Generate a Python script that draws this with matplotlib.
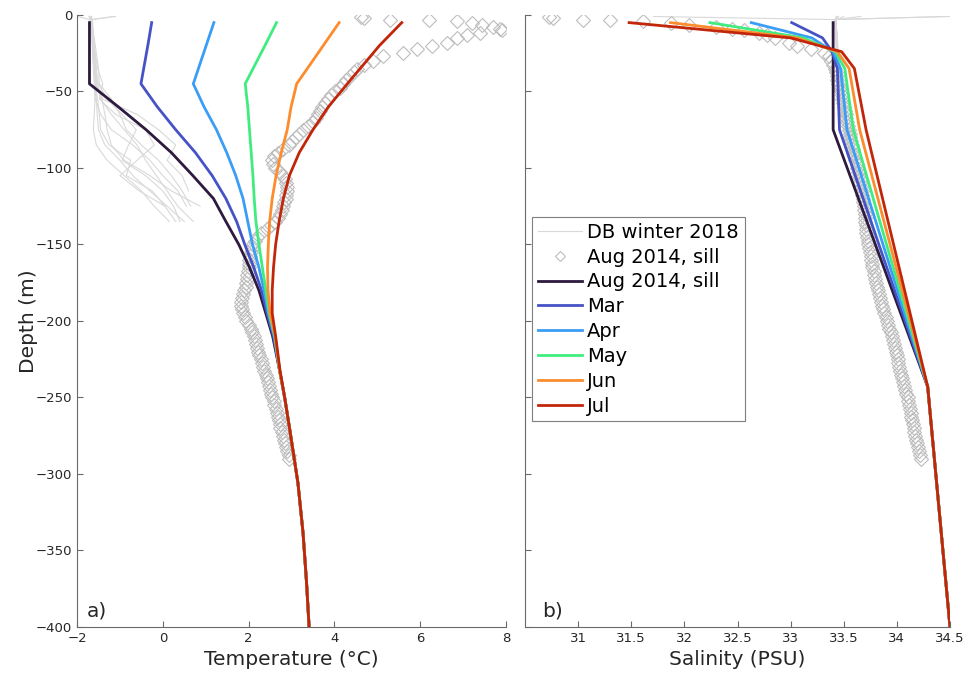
#!/usr/bin/env python3
"""
Temperature and salinity profiles: winter CTD casts, the Aug 2014 sill cast
and the monthly model profiles (Mar-Jul).
"""

import matplotlib

matplotlib.use("Agg")
import matplotlib.pyplot as plt

nan = float("nan")

# ---------------------------------------------------------------- data
# Monthly model profiles (temperature)
temp_depth = [-5, -20, -45, -60, -75, -90, -105, -120, -135, -150, -165, -180, -195, -210, -232]
temp_profiles = {
    "Aug 2014, sill": [-1.71, -1.71, -1.71, -1.04, -0.39, 0.20, 0.70, 1.18, 1.47, 1.77, 2.02, 2.24, 2.40, 2.56, 2.72],
    "Mar": [-0.26, -0.35, -0.51, -0.13, 0.30, 0.76, 1.15, 1.47, 1.72, 1.91, 2.12, 2.30, 2.43, 2.58, 2.72],
    "Apr": [1.19, 1.01, 0.71, 0.96, 1.25, 1.49, 1.70, 1.87, 1.98, 2.09, 2.24, 2.36, 2.46, 2.60, 2.72],
    "May": [2.65, 2.38, 1.92, 1.98, 2.02, 2.06, 2.10, 2.13, 2.17, 2.24, 2.32, 2.40, 2.48, 2.61, 2.72],
    "Jun": [4.11, 3.74, 3.12, 2.99, 2.90, 2.76, 2.64, 2.55, 2.49, 2.46, 2.44, 2.45, 2.50, 2.62, 2.72],
    "Jul": [5.57, 5.05, 4.30, 3.86, 3.50, 3.18, 2.95, 2.81, 2.71, 2.63, 2.58, 2.55, 2.55, 2.63, 2.73],
}
# shared deep part (all months coincide below ~230 m)
deep_depth = [-250, -273, -306, -339, -371, -400]
deep_temp = [2.84, 2.97, 3.15, 3.27, 3.35, 3.41]

# Monthly model profiles (salinity)
sal_depth = [-5, -15, -24, -35, -75, -243, -400]
sal_profiles = {
    "Aug 2014, sill": [33.40, 33.40, 33.40, 33.40, 33.40, 34.29, 34.50],
    "Mar": [33.01, 33.30, 33.39, 33.44, 33.46, 34.29, 34.50],
    "Apr": [32.63, 33.20, 33.40, 33.47, 33.53, 34.29, 34.50],
    "May": [32.24, 33.12, 33.42, 33.51, 33.59, 34.29, 34.50],
    "Jun": [31.87, 33.06, 33.44, 33.55, 33.65, 34.29, 34.50],
    "Jul": [31.48, 33.00, 33.48, 33.60, 33.71, 34.29, 34.50],
}
line_colors = ["#2e1a3e", "#4653c6", "#3a9df6", "#40ec80", "#fd8c2e", "#c2260a"]

# Aug 2014 sill CTD cast (diamonds)
sill_depth = [
    -1.5, -2, -3, -3.5, -4, -5.5, -6.5, -8, -9, -10, -12, -13, -15, -18, -20, -22, -25, -27,
    -30, -32.5, -35, -37.5, -40, -42.5, -45, -47.5, -50, -52.5, -55, -57.5, -60, -62.5,
    -65, -67.5, -70, -72.5, -75, -77.5, -80, -82.5, -85, -87.5, -90, -92.5, -95, -97.5,
    -100, -102.5, -105, -107.5, -110, -112.5, -115, -117.5, -120, -122.5, -125, -127.5,
    -130, -132.5, -135, -137.5, -140, -142.5, -145, -147.5, -150, -152.5, -155, -157.5,
    -160, -162.5, -165, -167.5, -170, -172.5, -175, -177.5, -180, -182.5, -185, -187.5,
    -190, -192.5, -195, -197.5, -200, -202.5, -205, -207.5, -210, -212.5, -215, -217.5,
    -220, -222.5, -225, -227.5, -230, -232.5, -235, -237.5, -240, -242.5, -245, -247.5,
    -250, -252.5, -255, -257.5, -260, -262.5, -265, -267.5, -270, -272.5, -275, -277.5,
    -280, -282.5, -285, -287.5, -290,
]
sill_temp = [
    4.62, 4.68, 5.30, 6.20, 6.85, 7.20, 7.45, 7.70, 7.85, 7.90, 7.40, 7.08, 6.85, 6.62, 6.27,
    5.92, 5.61, 5.14, 4.90, 4.70, 4.52, 4.45, 4.36, 4.28, 4.20, 4.12, 4.02, 3.93, 3.85, 3.78,
    3.72, 3.66, 3.62, 3.58, 3.50, 3.38, 3.26, 3.18, 3.10, 3.02, 2.94, 2.80, 2.68, 2.60, 2.55,
    2.56, 2.62, 2.72, 2.79, 2.84, 2.88, 2.90, 2.90, 2.88, 2.86, 2.83, 2.80, 2.77, 2.74, 2.69,
    2.62, 2.52, 2.42, 2.30, 2.20, 2.14, 2.10, 2.07, 2.05, 2.04, 2.02, 2.01, 2.00, 1.98, 1.97,
    1.96, 1.95, 1.93, 1.90, 1.87, 1.85, 1.83, 1.82, 1.84, 1.87, 1.91, 1.95, 2.00, 2.05, 2.09,
    2.12, 2.15, 2.18, 2.20, 2.22, 2.25, 2.28, 2.31, 2.34, 2.37, 2.40, 2.43, 2.45, 2.48, 2.50,
    2.53, 2.55, 2.58, 2.60, 2.63, 2.65, 2.68, 2.70, 2.72, 2.74, 2.77, 2.80, 2.83, 2.85, 2.88,
    2.90, 2.93, 2.95,
]
sill_sal = [
    30.73, 30.76, 31.05, 31.30, 31.61, 31.87, 32.04, 32.30, 32.45, 32.56, 32.70, 32.78, 32.85,
    32.98, 33.06, 33.19, 33.31, 33.36, 33.38, 33.40, 33.42, 33.43, 33.44, 33.44, 33.45, 33.46,
    33.47, 33.48, 33.48, 33.49, 33.50, 33.51, 33.52, 33.52, 33.53, 33.54, 33.55, 33.56, 33.56,
    33.57, 33.58, 33.59, 33.59, 33.60, 33.61, 33.62, 33.62, 33.63, 33.64, 33.65, 33.65, 33.66,
    33.67, 33.67, 33.68, 33.68, 33.69, 33.69, 33.70, 33.70, 33.70, 33.71, 33.71, 33.71, 33.72,
    33.73, 33.73, 33.74, 33.75, 33.76, 33.76, 33.77, 33.77, 33.78, 33.78, 33.79, 33.80, 33.81,
    33.82, 33.83, 33.84, 33.85, 33.86, 33.87, 33.88, 33.90, 33.91, 33.92, 33.93, 33.94, 33.95,
    33.96, 33.97, 33.98, 33.99, 34.00, 34.01, 34.01, 34.02, 34.03, 34.04, 34.05, 34.06, 34.07,
    34.08, 34.09, 34.10, 34.10, 34.11, 34.12, 34.13, 34.13, 34.14, 34.15, 34.16, 34.16, 34.17,
    34.18, 34.19, 34.20, 34.21, 34.22, 34.23,
]

# DB winter 2018 casts (thin grey lines); nan = below end of cast
db_depth = [-1, -3, -8, -15, -25, -35, -45, -55, -65, -75, -85, -95, -105, -115, -125, -135]
db_temp = [
    [-1.16, -1.66, -1.66, -1.65, -1.64, -1.62, -1.60, -1.58, -1.60, -1.62, -1.55, -1.30, -0.90, -0.50, -0.20, 0.15],
    [-2.00, -1.70, -1.66, -1.63, -1.60, -1.58, -1.55, -1.45, -1.20, -0.90, -0.60, -0.40, -0.15, 0.10, 0.35, 0.71],
    [-1.70, -1.68, -1.66, -1.64, -1.62, -1.58, -1.50, -1.30, -0.95, -0.62, -0.80, -0.95, -0.40, 0.00, 0.25, 0.40],
    [-1.10, -1.64, -1.63, -1.61, -1.58, -1.55, -1.52, -1.42, -1.35, -1.30, -1.20, -0.90, -0.30, 0.20, 0.87, nan],
    [-1.68, -1.66, -1.64, -1.62, -1.58, -1.52, -1.40, -1.48, -1.10, -0.40, -0.20, -0.60, -1.00, -0.55, 0.05, nan],
    [-1.70, -1.68, -1.65, -1.63, -1.60, -1.57, -1.55, -1.58, -1.45, -1.20, -0.70, -0.30, 0.00, 0.35, 0.55, nan],
    [-1.72, -1.69, -1.67, -1.64, -1.61, -1.59, -1.56, -1.40, -0.60, -0.10, 0.30, 0.10, 0.45, 0.60, nan, nan],
    [-1.66, -1.65, -1.64, -1.62, -1.60, -1.58, -1.57, -1.55, -1.53, -1.50, -1.35, -1.00, -0.70, -0.30, 0.10, 0.50],
    [-1.69, -1.67, -1.65, -1.60, -1.55, -1.50, -1.48, -1.20, -1.00, -0.85, -0.50, -0.10, 0.20, 0.45, 0.65, nan],
    [-1.71, -1.69, -1.66, -1.65, -1.63, -1.60, -1.58, -1.52, -1.48, -1.45, -1.25, -0.75, -0.85, -0.25, 0.05, 0.30],
]
db_sal = [
    [34.50, 33.42, 33.42, 33.43, 33.43, 33.44, 33.45, 33.47, 33.49, 33.51, 33.55, 33.59, 33.62, 33.66, 33.70, 33.75],
    [31.71, 33.41, 33.42, 33.42, 33.43, 33.44, 33.46, 33.48, 33.51, 33.54, 33.57, 33.60, 33.64, 33.68, 33.72, 33.76],
    [33.66, 33.42, 33.43, 33.43, 33.44, 33.45, 33.46, 33.49, 33.52, 33.55, 33.56, 33.58, 33.63, 33.67, 33.71, 33.75],
    [34.45, 33.42, 33.43, 33.44, 33.44, 33.45, 33.46, 33.48, 33.50, 33.52, 33.55, 33.58, 33.62, 33.67, 33.73, nan],
    [33.50, 33.43, 33.43, 33.44, 33.45, 33.46, 33.47, 33.47, 33.51, 33.56, 33.58, 33.58, 33.60, 33.65, 33.70, nan],
    [33.44, 33.42, 33.43, 33.43, 33.44, 33.45, 33.46, 33.47, 33.49, 33.53, 33.57, 33.61, 33.64, 33.68, 33.72, nan],
    [33.43, 33.42, 33.42, 33.43, 33.44, 33.45, 33.46, 33.49, 33.54, 33.57, 33.60, 33.61, 33.65, 33.69, nan, nan],
    [33.44, 33.43, 33.43, 33.44, 33.44, 33.45, 33.46, 33.47, 33.48, 33.50, 33.54, 33.58, 33.61, 33.65, 33.70, 33.75],
    [33.45, 33.42, 33.43, 33.43, 33.44, 33.45, 33.46, 33.48, 33.51, 33.53, 33.57, 33.60, 33.63, 33.67, 33.71, nan],
    [33.44, 33.42, 33.42, 33.43, 33.44, 33.45, 33.46, 33.47, 33.48, 33.50, 33.54, 33.58, 33.60, 33.65, 33.70, 33.74],
]

temp_ticks = [-2, 0, 2, 4, 6, 8]
sal_ticks = [31, 31.5, 32, 32.5, 33, 33.5, 34, 34.5]
depth_ticks = [0, -50, -100, -150, -200, -250, -300, -350, -400]

AXIS_GREY = "#6a6a6a"
TEXT_COL = "#262626"


def style_axes(ax):
    for side in ("top", "right"):
        ax.spines[side].set_visible(False)
    for side in ("left", "bottom"):
        ax.spines[side].set_color(AXIS_GREY)
        ax.spines[side].set_linewidth(0.8)
    ax.tick_params(direction="in", length=4, width=0.8, color=AXIS_GREY,
                   labelcolor=TEXT_COL, labelsize=9.5)


def main():
    fig = plt.figure(figsize=(9.69, 6.8), dpi=100)
    ax1 = fig.add_axes([0.0795, 0.078, 0.4427, 0.900])
    ax2 = fig.add_axes([0.5418, 0.078, 0.4386, 0.900], sharey=ax1)

    # winter casts
    for i in range(len(db_temp)):
        lab = "DB winter 2018" if i == 0 else None
        ax1.plot(db_temp[i], db_depth, color="#d9d9d9", lw=0.8, zorder=1)
        ax2.plot(db_sal[i], db_depth, color="#d9d9d9", lw=0.8, zorder=1, label=lab)

    # sill cast
    mk = dict(ls="none", marker="D", ms=7, mfc="none", mec="#bdbdbd", mew=0.8, zorder=2)
    ax1.plot(sill_temp, sill_depth, **mk)
    sill_h, = ax2.plot(sill_sal, sill_depth, label="Aug 2014, sill", **mk)

    # model profiles
    for (name, tvals), svals, col in zip(temp_profiles.items(), sal_profiles.values(), line_colors):
        ax1.plot(list(tvals) + deep_temp, temp_depth + deep_depth, color=col, lw=2.0, zorder=3)
        ax2.plot(svals, sal_depth, color=col, lw=2.0, zorder=3, label=name)

    style_axes(ax1)
    style_axes(ax2)

    ax1.set_xlim(-2, 8)
    ax1.set_ylim(-400, 0)
    ax1.set_xticks(temp_ticks)
    ax1.set_yticks(depth_ticks)
    ax2.set_xlim(30.5, 34.5)
    ax2.set_xticks(sal_ticks)
    ax2.set_xticklabels([f"{v:g}" for v in sal_ticks])
    ax2.tick_params(labelleft=False)

    ax1.set_xlabel("Temperature (°C)", fontsize=14.5, color=TEXT_COL, labelpad=4)
    ax2.set_xlabel("Salinity (PSU)", fontsize=14.5, color=TEXT_COL, labelpad=4)
    ax1.set_ylabel("Depth (m)", fontsize=14.5, color=TEXT_COL, labelpad=-2)

    ax1.text(0.022, 0.01, "a)", transform=ax1.transAxes, fontsize=14.5, color=TEXT_COL, va="bottom")
    ax2.text(0.04, 0.01, "b)", transform=ax2.transAxes, fontsize=14.5, color=TEXT_COL, va="bottom")

    leg = ax2.legend(loc="upper left", bbox_to_anchor=(0.016, 0.67), borderaxespad=0,
                     fontsize=14.0, labelspacing=0.3, handlelength=2.3, handletextpad=0.25,
                     borderpad=0.3, fancybox=False, framealpha=1, edgecolor="#7f7f7f")
    leg.get_frame().set_linewidth(0.8)
    # smaller diamond in the legend, as in the original
    for h in leg.legend_handles:
        if h.get_marker() == "D":
            h.set_markersize(5)

    fig.savefig("out.png", dpi=100)


if __name__ == "__main__":
    main()
